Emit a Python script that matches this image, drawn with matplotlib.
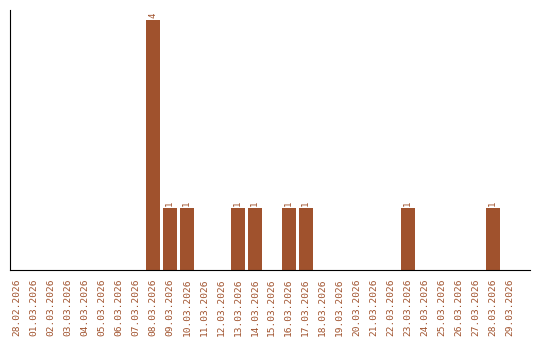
import matplotlib
matplotlib.use("Agg")
import matplotlib.pyplot as plt
import numpy as np

# Daten
dates = ["28.02.2026", "01.03.2026", "02.03.2026", "03.03.2026", "04.03.2026",
         "05.03.2026", "06.03.2026", "07.03.2026", "08.03.2026", "09.03.2026",
         "10.03.2026", "11.03.2026", "12.03.2026", "13.03.2026", "14.03.2026",
         "15.03.2026", "16.03.2026", "17.03.2026", "18.03.2026", "19.03.2026",
         "20.03.2026", "21.03.2026", "22.03.2026", "23.03.2026", "24.03.2026",
         "25.03.2026", "26.03.2026", "27.03.2026", "28.03.2026", "29.03.2026"]
counts = [0, 0, 0, 0, 0, 0, 0, 0, 4, 1,
          1, 0, 0, 1, 1, 0, 1, 1, 0, 0,
          0, 0, 0, 1, 0, 0, 0, 0, 1, 0]

color = "#A0522D"

fig = plt.figure(figsize=(5.4, 3.4), dpi=100)
ax = fig.add_axes([0.0194, 0.206, 0.9616, 0.764])

x = np.arange(len(dates))
bars = ax.bar(x, counts, width=0.82, color=color)

for xi, c in zip(x, counts):
    if c > 0:
        ax.text(xi, c + 0.03, str(c), rotation=90, ha="center", va="bottom",
                color=color, fontsize=6.5, family="DejaVu Sans Mono")

ax.set_xlim(-0.38, 30.18)
ax.set_ylim(0, 4.16)
ax.set_xticks(x)
ax.set_xticklabels(dates, rotation=90, color=color, fontsize=6.8,
                   family="DejaVu Sans Mono")
ax.tick_params(axis="x", length=0, pad=6)
ax.set_yticks([])
ax.spines["top"].set_visible(False)
ax.spines["right"].set_visible(False)

fig.savefig("out.png", dpi=100)
